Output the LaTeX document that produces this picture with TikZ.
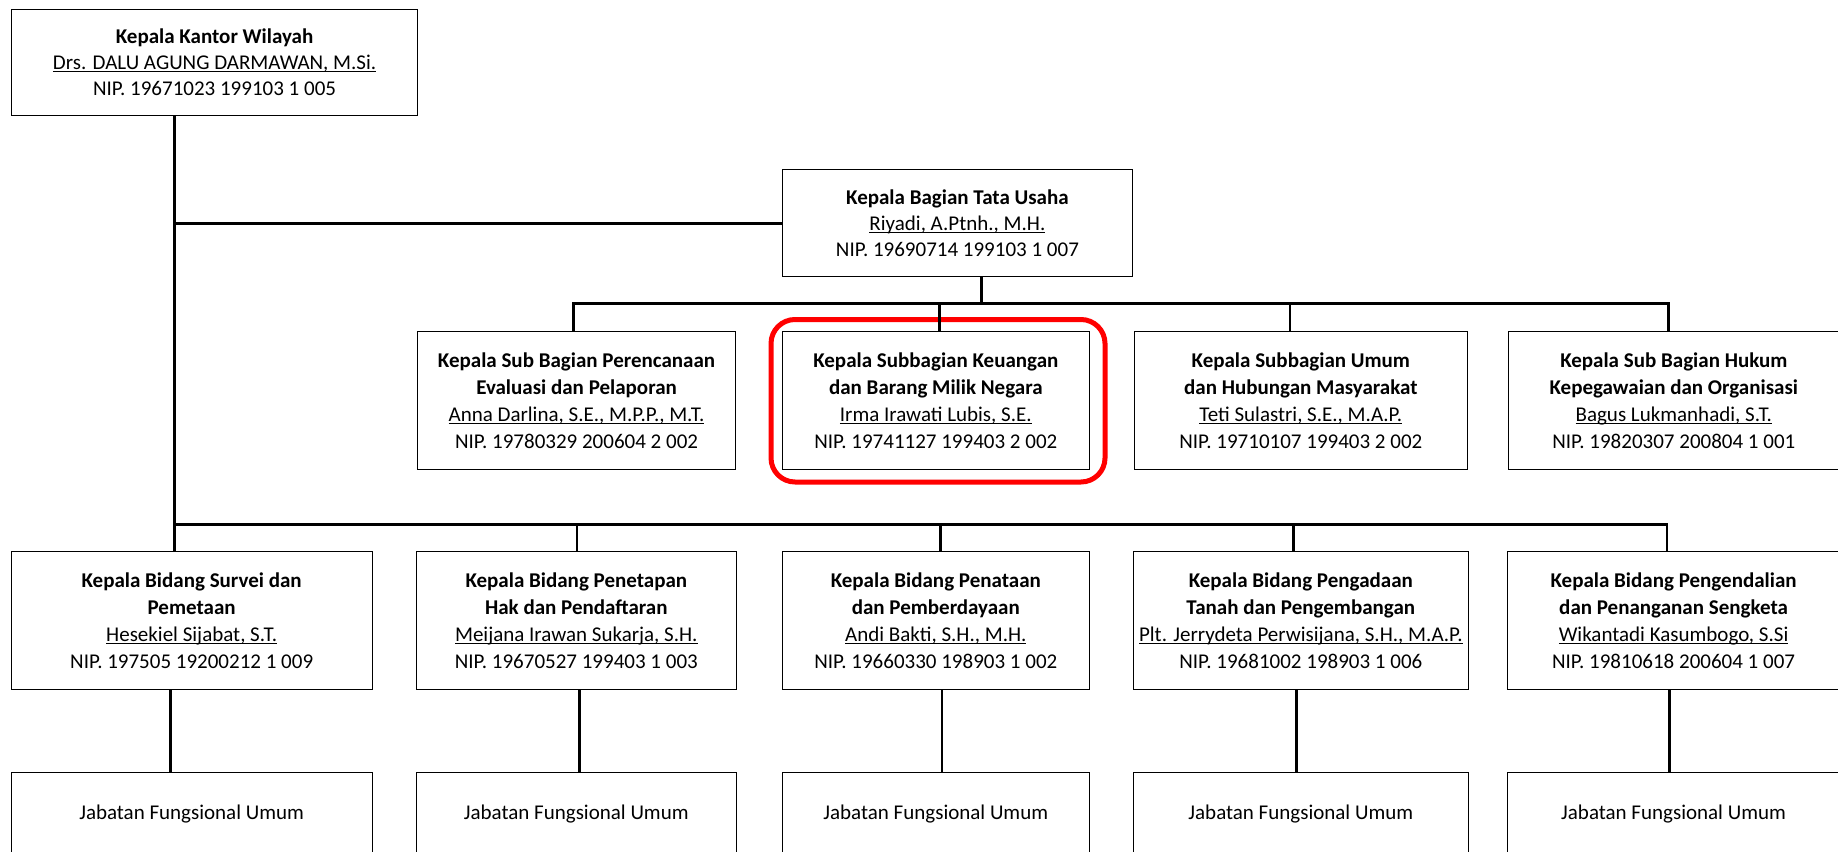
\documentclass[tikz,border=0pt]{standalone}
\usepackage{fontspec}
\setmainfont{Carlito}
\newcommand\myul[1]{\setbox0\hbox{#1}\rlap{\rule[-2.6pt]{\wd0}{1.1pt}}\box0}
\tikzset{
  box/.style={draw=black, line width=1.1pt, anchor=north west, inner sep=0pt, align=center,
    font=\fontsize{21}{26}\selectfont},
  boxb/.style={box, font=\fontsize{21}{27}\selectfont},
  conn/.style={draw=black, line width=2.8pt, line join=miter},
  hilite/.style={draw=red, line width=5pt, rounded corners=24pt, anchor=north west, inner sep=0pt}
}
\begin{document}
\begin{tikzpicture}[x=1pt,y=-1pt]
\clip (0,0) rectangle (1838,851);
\fill[white] (0,0) rectangle (1838,851);

% top level
\node[box, minimum width=406pt, minimum height=106pt] (kak) at (11,9)
  {\textbf{Kepala Kantor Wilayah}\\\myul{Drs. DALU AGUNG DARMAWAN, M.Si.}\\NIP. 19671023 199103 1 005};
\node[box, minimum width=350.3pt, minimum height=106.7pt] (tu) at (781.7,169.3)
  {\textbf{Kepala Bagian Tata Usaha}\\\myul{Riyadi, A.Ptnh., M.H.}\\NIP. 19690714 199103 1 007};

% sub bagian
\node[boxb, minimum width=318pt, minimum height=137.5pt] (sub1) at (417,331)
  {\textbf{Kepala Sub Bagian Perencanaan}\\\textbf{Evaluasi dan Pelaporan}\\\myul{Anna Darlina, S.E., M.P.P., M.T.}\\NIP. 19780329 200604 2 002};
\node[hilite, minimum width=334pt, minimum height=162.5pt] (hl) at (768.5,317) {};
\node[boxb, minimum width=306.5pt, minimum height=137.5pt] (sub2) at (782,331)
  {\textbf{Kepala Subbagian Keuangan}\\\textbf{dan Barang Milik Negara}\\\myul{Irma Irawati Lubis, S.E.}\\NIP. 19741127 199403 2 002};
\node[boxb, minimum width=333.5pt, minimum height=137.5pt] (sub3) at (1133.5,331)
  {\textbf{Kepala Subbagian Umum}\\\textbf{dan Hubungan Masyarakat}\\\myul{Teti Sulastri, S.E., M.A.P.}\\NIP. 19710107 199403 2 002};
\node[boxb, minimum width=331.5pt, minimum height=137.5pt] (sub4) at (1507.5,331)
  {\textbf{Kepala Sub Bagian Hukum}\\\textbf{Kepegawaian dan Organisasi}\\\myul{Bagus Lukmanhadi, S.T.}\\NIP. 19820307 200804 1 001};

% bidang
\node[boxb, minimum width=360.8pt, minimum height=137.5pt] (bid1) at (10.7,551)
  {\textbf{Kepala Bidang Survei dan}\\\textbf{Pemetaan}\\\myul{Hesekiel Sijabat, S.T.}\\NIP. 197505 19200212 1 009};
\node[boxb, minimum width=319.5pt, minimum height=137.5pt] (bid2) at (416,551)
  {\textbf{Kepala Bidang Penetapan}\\\textbf{Hak dan Pendaftaran}\\\myul{Meijana Irawan Sukarja, S.H.}\\NIP. 19670527 199403 1 003};
\node[boxb, minimum width=306.5pt, minimum height=137.5pt] (bid3) at (782,551)
  {\textbf{Kepala Bidang Penataan}\\\textbf{dan Pemberdayaan}\\\myul{Andi Bakti, S.H., M.H.}\\NIP. 19660330 198903 1 002};
\node[boxb, minimum width=334.5pt, minimum height=137.5pt] (bid4) at (1133,551)
  {\textbf{Kepala Bidang Pengadaan}\\\textbf{Tanah dan Pengembangan}\\\myul{Plt. Jerrydeta Perwisijana, S.H., M.A.P.}\\NIP. 19681002 198903 1 006};
\node[boxb, minimum width=332pt, minimum height=137.5pt] (bid5) at (1507,551)
  {\textbf{Kepala Bidang Pengendalian}\\\textbf{dan Penanganan Sengketa}\\\myul{Wikantadi Kasumbogo, S.Si}\\NIP. 19810618 200604 1 007};

% jabatan fungsional
\node[box, minimum width=360.8pt, minimum height=84.5pt] (jfu1) at (10.7,771.5) {Jabatan Fungsional Umum};
\node[box, minimum width=319.5pt, minimum height=84.5pt] (jfu2) at (416,771.5) {Jabatan Fungsional Umum};
\node[box, minimum width=306.5pt, minimum height=84.5pt] (jfu3) at (782,771.5) {Jabatan Fungsional Umum};
\node[box, minimum width=334.5pt, minimum height=84.5pt] (jfu4) at (1133,771.5) {Jabatan Fungsional Umum};
\node[box, minimum width=332pt, minimum height=84.5pt] (jfu5) at (1507,771.5) {Jabatan Fungsional Umum};

% connectors
\coordinate (m) at (174.3,0);
\draw[conn] (kak.south -| m) -- (bid1.north -| m);
\draw[conn] (tu.west -| m) -- (tu.west);
\coordinate (tv) at (981.7,303.5);
\draw[conn] (tu.south -| tv) -- (tv);
\coordinate (ub1) at (573.6,303.5);
\coordinate (ub2) at (939.3,303.5);
\coordinate (ub3) at (1290,303.5);
\coordinate (ub4) at (1668.3,303.5);
\draw[conn] (sub1.north -| ub1) -- (ub1) -- (ub4) -- (sub4.north -| ub4);
\draw[conn] (ub2) -- (sub2.north -| ub2);
\draw[conn] (ub3) -- (sub3.north -| ub3);
\coordinate (lb1) at (174.3,524.3);
\coordinate (lb2) at (577,524.3);
\coordinate (lb3) at (940.8,524.3);
\coordinate (lb4) at (1293.5,524.3);
\coordinate (lb5) at (1667,524.3);
\draw[conn] (lb1) -- (lb5) -- (bid5.north -| lb5);
\draw[conn] (lb2) -- (bid2.north -| lb2);
\draw[conn] (lb3) -- (bid3.north -| lb3);
\draw[conn] (lb4) -- (bid4.north -| lb4);
\coordinate (d1) at (170.7,0);
\coordinate (d2) at (579.5,0);
\coordinate (d3) at (942,0);
\coordinate (d4) at (1296.5,0);
\coordinate (d5) at (1669.5,0);
\draw[conn] (bid1.south -| d1) -- (jfu1.north -| d1);
\draw[conn] (bid2.south -| d2) -- (jfu2.north -| d2);
\draw[conn] (bid3.south -| d3) -- (jfu3.north -| d3);
\draw[conn] (bid4.south -| d4) -- (jfu4.north -| d4);
\draw[conn] (bid5.south -| d5) -- (jfu5.north -| d5);
\end{tikzpicture}
\end{document}
